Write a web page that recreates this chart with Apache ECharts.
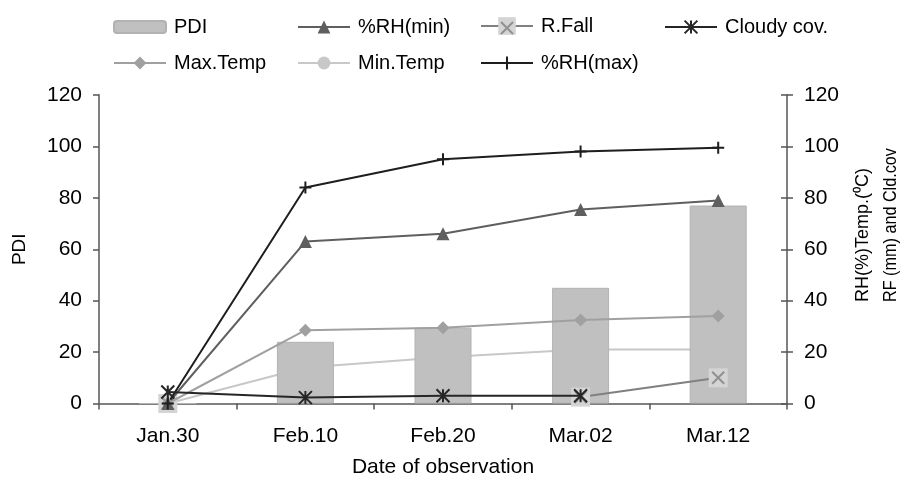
<!DOCTYPE html>
<html>
<head>
<meta charset="utf-8">
<script src="https://cdn.jsdelivr.net/npm/echarts@6/dist/echarts.min.js"></script>
<style>
  html, body { margin: 0; padding: 0; background: #fff; }
  #chart { width: 904px; height: 478px; }
</style>
</head>
<body>
<div id="chart"></div>
<script>
const dates = ['Jan.30', 'Feb.10', 'Feb.20', 'Mar.02', 'Mar.12']
const pdi = [0, 24, 29.5, 45, 77]
const rhMin = [0, 63, 66, 75.5, 79]
const rFall = [0, null, null, 2.5, 10]
const cloudy = [4.5, 2.3, 3, 3, null]
const maxTemp = [0, 28.5, 29.5, 32.5, 34]
const minTemp = [0, 14, 18, 21, 21]
const rhMax = [0, 84, 95, 98, 99.5]
const yTicks = [0, 20, 40, 60, 80, 100, 120]

const font = '"Liberation Sans", Arial, sans-serif'
const axisGray = '#808080'

// marker shapes drawn as strokes
const plusPath = 'path://M0 6L12 6M6 0L6 12'
const starPath = 'path://M0 0L12 12M12 0L0 12M6 0L6 12'
const crossPath = 'path://M0 0L10 10M10 0L0 10'

function legendAt(name, left, top, extra) {
  return Object.assign({
    data: [name],
    left: left,
    top: top,
    padding: 0,
    itemWidth: 52,
    itemHeight: 16,
    selectedMode: false,
    textStyle: { fontSize: 20, color: '#000', fontFamily: font, padding: [0, 0, 0, 3] }
  }, extra || {})
}

function yAxisBase(extra) {
  return Object.assign({
    type: 'value',
    min: yTicks[0],
    max: yTicks[yTicks.length - 1],
    interval: yTicks[1] - yTicks[0],
    splitLine: { show: false },
    axisLine: { show: true, lineStyle: { color: axisGray, width: 2 } },
    axisTick: { show: true, length: 6, lineStyle: { color: '#555', width: 1.5 } },
    axisLabel: { margin: 17, fontSize: 21, color: '#000', fontFamily: font }
  }, extra)
}

function lineSeries(name, data, color, symbol, size, z, extra) {
  return Object.assign({
    name: name,
    type: 'line',
    yAxisIndex: 1,
    data: data,
    z: z,
    symbol: symbol,
    symbolSize: size,
    showSymbol: true,
    connectNulls: false,
    lineStyle: { color: color, width: 2 },
    itemStyle: { color: color }
  }, extra || {})
}

function sideTitle(text, x, stretch) {
  return {
    type: 'text',
    x: x,
    y: 302,
    rotation: Math.PI / 2,
    scaleX: stretch,
    style: {
      text: text,
      font: '18px ' + font,
      fill: '#000',
      align: 'left',
      verticalAlign: 'middle'
    }
  }
}

const chart = echarts.init(document.getElementById('chart'), null, { renderer: 'canvas' })

chart.setOption({
  animation: false,
  backgroundColor: '#fff',
  grid: { left: 99, right: 117, top: 95, bottom: 74.5, outerBoundsMode: 'none' },
  legend: [
    legendAt('PDI', 113, 17, { itemHeight: 12 }),
    legendAt('%RH(min)', 297, 17),
    legendAt('R.Fall', 480, 16, { itemHeight: 22 }),
    legendAt('rfx', 500, 21, { itemWidth: 12, itemHeight: 12, formatter: () => '' }),
    legendAt('Cloudy cov.', 664, 17),
    legendAt('Max.Temp', 113, 53),
    legendAt('Min.Temp', 297, 53),
    legendAt('%RH(max)', 480, 53)
  ],
  xAxis: {
    type: 'category',
    data: dates,
    boundaryGap: true,
    name: 'Date of observation',
    nameLocation: 'middle',
    nameGap: 53,
    nameTextStyle: { fontSize: 21, color: '#000', fontFamily: font },
    axisLine: { lineStyle: { color: axisGray, width: 2 } },
    axisTick: { show: true, length: 6, lineStyle: { color: '#555', width: 1.5 } },
    axisLabel: { margin: 22, fontSize: 21, color: '#000', fontFamily: font }
  },
  yAxis: [
    yAxisBase({
      position: 'left',
      name: 'PDI',
      nameLocation: 'middle',
      nameGap: 70,
      nameTextStyle: { fontSize: 19, color: '#000', fontFamily: font }
    }),
    yAxisBase({ position: 'right' }),
    // second right axis only for the inner half of the crossing ticks
    yAxisBase({
      position: 'right',
      axisLine: { show: false },
      axisTick: { show: true, inside: true, length: 6, lineStyle: { color: '#555', width: 1.5 } },
      axisLabel: { show: false }
    })
  ],
  graphic: [
    sideTitle('RH(%)Temp.(⁰C)', 863, 1),
    sideTitle('RF (mm) and Cld.cov', 891, 0.9)
  ],
  series: [
    lineSeries('Min.Temp', minTemp, '#c8c8c8', 'circle', 13, 1),
    {
      name: 'PDI',
      type: 'bar',
      yAxisIndex: 0,
      data: pdi,
      barWidth: 57,
      z: 2,
      itemStyle: { color: '#c0c0c0', borderColor: '#b2b2b2', borderWidth: 1 }
    },
    lineSeries('R.Fall', rFall, '#808080', 'rect', 19, 3, {
      itemStyle: { color: '#d4d4d4' }
    }),
    {
      name: 'rfx',
      type: 'scatter',
      yAxisIndex: 1,
      data: rFall,
      z: 4,
      symbol: crossPath,
      symbolSize: 12,
      itemStyle: { color: 'transparent', borderColor: '#808080', borderWidth: 2 }
    },
    lineSeries('Max.Temp', maxTemp, '#a0a0a0', 'diamond', 13, 5),
    lineSeries('%RH(min)', rhMin, '#5f5f5f', 'triangle', 13, 5),
    lineSeries('%RH(max)', rhMax, '#1e1e1e', plusPath, 12, 5, {
      itemStyle: { color: 'transparent', borderColor: '#1e1e1e', borderWidth: 2 }
    }),
    lineSeries('Cloudy cov.', cloudy, '#262626', starPath, 13, 6, {
      itemStyle: { color: 'transparent', borderColor: '#262626', borderWidth: 2 }
    })
  ]
})
</script>
</body>
</html>
